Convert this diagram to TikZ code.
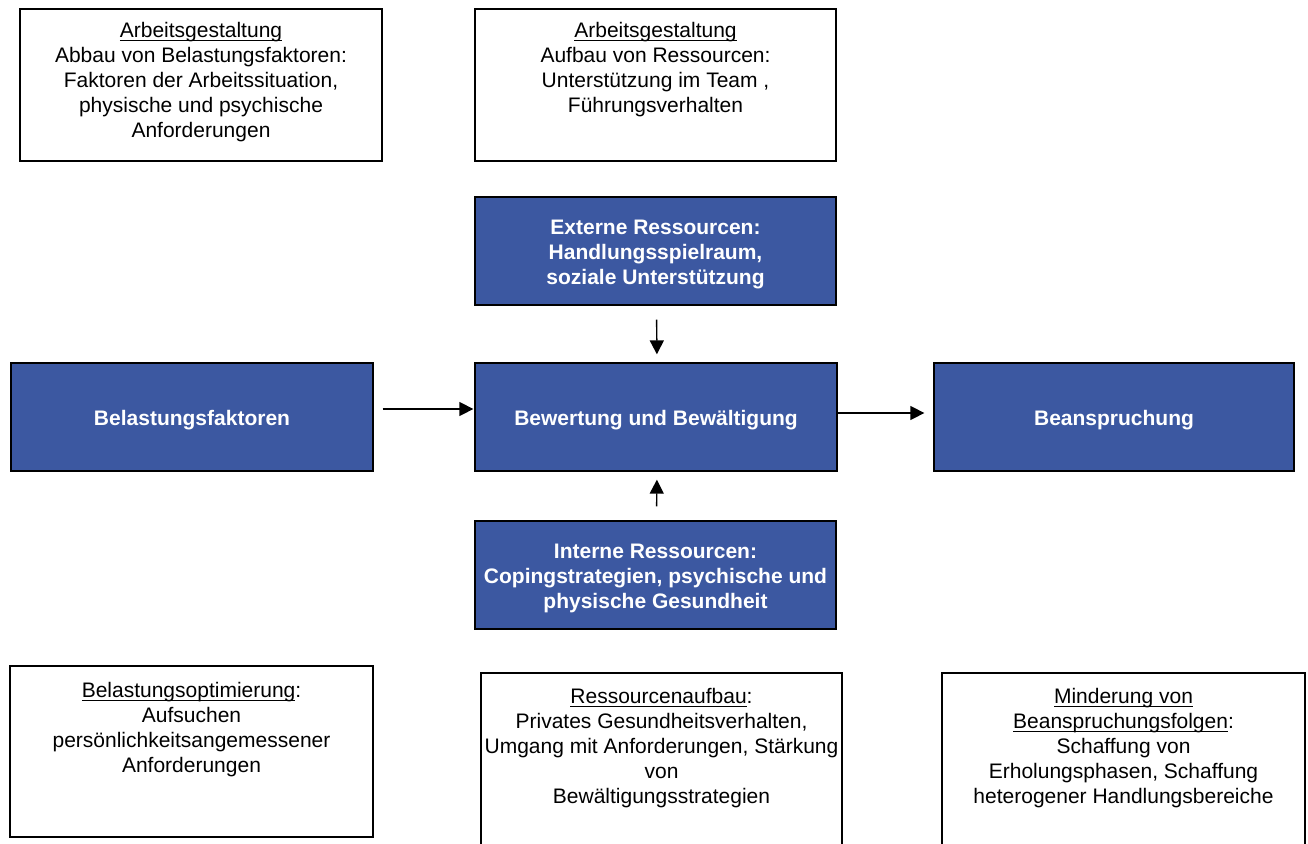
\documentclass[tikz,border=0pt]{standalone}
\usepackage{fontspec}
\setmainfont{Liberation Sans}
\usetikzlibrary{arrows.meta}
\definecolor{boxblue}{RGB}{60,88,161}
% underline with a rule a little below the baseline
\newsavebox{\ulbox}
\newcommand{\ultext}[1]{\sbox{\ulbox}{#1}\rlap{\rule[-3.2pt]{\wd\ulbox}{1.3pt}}\usebox{\ulbox}}
\begin{document}
\begin{tikzpicture}[x=1pt,y=-1pt,
  every node/.style={font=\fontsize{21}{25}\selectfont},
  whitebox/.style={draw=black,line width=1.3pt,fill=white,rectangle,inner sep=0pt},
  bluebox/.style={draw=black,line width=1.3pt,fill=boxblue,rectangle,inner sep=0pt,
    minimum height=108pt},
  bluetext/.style={inner sep=0pt,text=white,align=center,
    font=\fontsize{21}{25}\selectfont\bfseries},
  boxtext/.style={anchor=north,inner sep=0pt,align=center},
  arr/.style={line width=1.4pt,-{Triangle[length=14pt,width=14pt]}}]
\useasboundingbox (0,0) rectangle (1308,843);
\clip (0,0) rectangle (1308,843);

% top row: work design measures
\node[whitebox,minimum width=362pt,minimum height=152pt] (tl) at (201,85) {};
\node[boxtext] (tltext) at ([yshift=-14pt]tl.north)
  {\ultext{Arbeitsgestaltung}\\Abbau von Belastungsfaktoren:\\Faktoren der Arbeitssituation,\\physische und psychische\\Anforderungen};
\node[whitebox,minimum width=361pt,minimum height=152pt] (tm) at (655.5,85) {};
\node[boxtext] (tmtext) at ([yshift=-14pt]tm.north)
  {\ultext{Arbeitsgestaltung}\\Aufbau von Ressourcen:\\Unterstützung im Team ,\\Führungsverhalten};

% core model
\node[bluebox,minimum width=361pt] (ext) at (655.5,251) {};
\node[bluetext] (exttext) at ([yshift=-3pt]ext.center)
  {Externe Ressourcen:\\Handlungsspielraum,\\soziale Unterstützung};
\node[bluebox,minimum width=362pt] (bel) at (192,417) {};
\node[bluetext] (beltext) at ([yshift=-3pt]bel.center) {Belastungsfaktoren};
\node[bluebox,minimum width=362pt] (bew) at (656,417) {};
\node[bluetext] (bewtext) at ([yshift=-3pt]bew.center) {Bewertung und Bewältigung};
\node[bluebox,minimum width=360pt] (bea) at (1114,417) {};
\node[bluetext] (beatext) at ([yshift=-3pt]bea.center) {Beanspruchung};
\node[bluebox,minimum width=361pt] (int) at (655.5,575) {};
\node[bluetext] (inttext) at ([yshift=-3pt]int.center)
  {Interne Ressourcen:\\Copingstrategien, psychische und\\physische Gesundheit};

\draw[arr,shorten <=14pt,shorten >=8pt] ([xshift=1pt]ext.south) -- ([xshift=1pt]bew.north);
\draw[arr,shorten <=14pt,shorten >=8pt] ([xshift=1pt]int.north) -- ([xshift=1pt]bew.south);
\draw[arr,shorten <=9pt,shorten >=1pt] ([yshift=8pt]bel.east) -- ([yshift=8pt]bew.west);
\draw[arr,shorten >=9pt] ([yshift=4pt]bew.east) -- ([yshift=4pt]bea.west);

% bottom row: personal measures
\node[whitebox,minimum width=363pt,minimum height=171pt] (bl) at (191.5,751.5) {};
\node[boxtext] (bltext) at ([yshift=-17pt]bl.north)
  {\ultext{Belastungsoptimierung}:\\Aufsuchen\\persönlichkeitsangemessener\\Anforderungen};
\node[whitebox,minimum width=361pt,minimum height=190pt] (bm) at (661.5,768) {};
\node[boxtext] (bmtext) at ([yshift=-16pt]bm.north)
  {\ultext{Ressourcenaufbau}:\\Privates Gesundheitsverhalten,\\Umgang mit Anforderungen, Stärkung\\von\\Bewältigungsstrategien};
\node[whitebox,minimum width=363pt,minimum height=190pt] (br) at (1123.5,768) {};
\node[boxtext] (brtext) at ([yshift=-16pt]br.north)
  {\ultext{Minderung von}\\\ultext{Beanspruchungsfolgen}:\\Schaffung von\\Erholungsphasen, Schaffung\\heterogener Handlungsbereiche};
\end{tikzpicture}
\end{document}
